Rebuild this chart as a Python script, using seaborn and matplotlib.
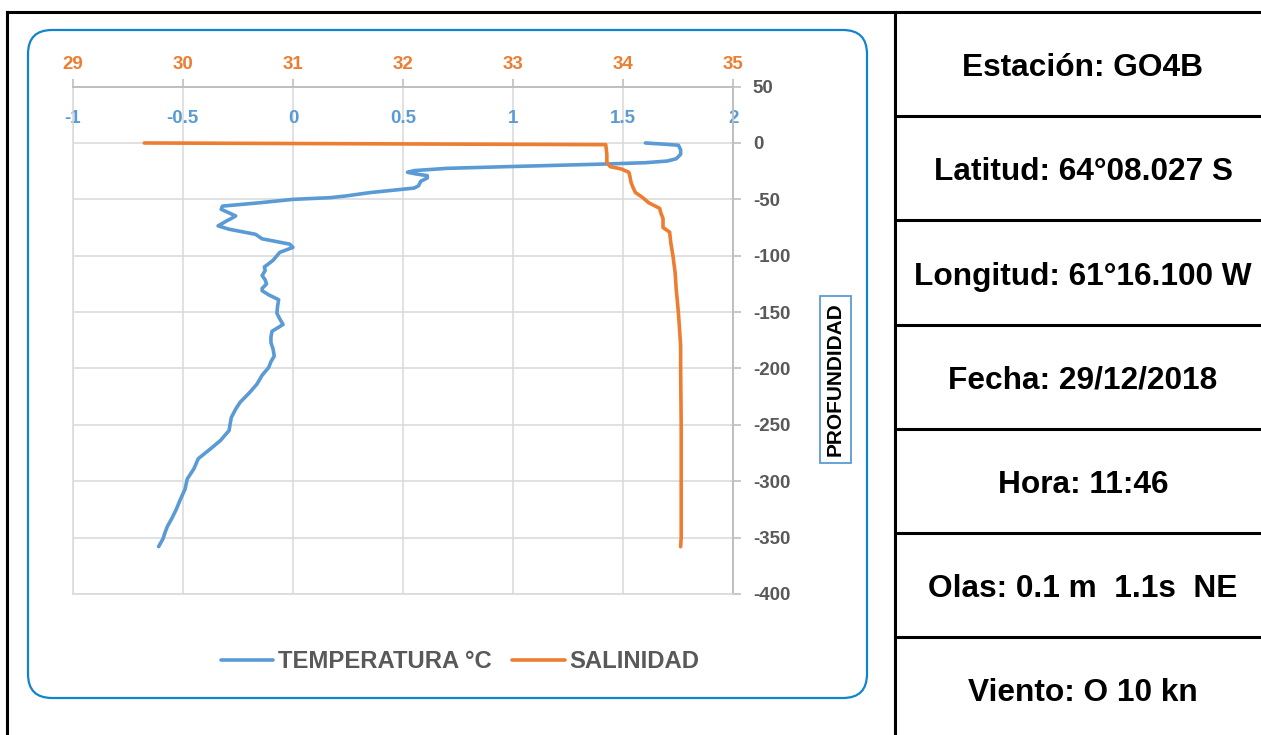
import numpy as np
import pandas as pd
import matplotlib
matplotlib.use("Agg")
import matplotlib.pyplot as plt
import seaborn as sns
from matplotlib.patches import FancyBboxPatch
from matplotlib.lines import Line2D
from matplotlib.transforms import IdentityTransform

# ---------------- data ----------------
temp_depth = [0, -1, -2, -6, -10, -14, -16, -17.5, -18.6, -19.8, -21, -22.5, -24.5, -26, -27.5,
              -29, -31, -34, -38, -40, -41, -44, -47, -48.5, -50, -53, -56, -58.8, -62, -64.7,
              -67, -69, -73.5, -76.5, -81, -85, -89.7, -92.6, -97, -104, -110, -113, -117.6,
              -121.5, -125, -129, -131, -134.7, -139, -145, -151, -156, -161, -167, -172, -177,
              -183, -189, -194, -199, -206, -214, -222, -230, -236, -243.5, -249, -255, -264,
              -271.5, -280, -289, -298, -307, -315.6, -325, -333, -340, -345, -351, -358]
temp_values = [1.60, 1.68, 1.75, 1.76, 1.76, 1.74, 1.70, 1.60, 1.43, 1.20, 0.97, 0.70, 0.55, 0.52,
               0.56, 0.61, 0.61, 0.58, 0.57, 0.55, 0.50, 0.35, 0.24, 0.17, 0.0, -0.15, -0.32,
               -0.326, -0.29, -0.26, -0.28, -0.30, -0.34, -0.29, -0.17, -0.14, -0.015, 0.0,
               -0.06, -0.09, -0.13, -0.126, -0.14, -0.126, -0.12, -0.14, -0.14, -0.11, -0.065,
               -0.07, -0.073, -0.06, -0.045, -0.095, -0.10, -0.10, -0.09, -0.085, -0.10, -0.11,
               -0.14, -0.164, -0.20, -0.24, -0.26, -0.28, -0.285, -0.29, -0.33, -0.376, -0.43,
               -0.45, -0.48, -0.49, -0.51, -0.53, -0.55, -0.57, -0.58, -0.59, -0.61]

sal_depth = [0, -1.5, -10, -17, -21, -23, -26, -30, -35, -40, -44, -48, -53, -58, -62, -67, -75,
             -79, -88, -100, -115, -130, -140, -151, -165, -180, -200, -250, -300, -350, -358]
sal_values = [29.65, 33.84, 33.85, 33.85, 33.88, 33.98, 34.05, 34.06, 34.07, 34.09, 34.11, 34.17,
              34.23, 34.33, 34.34, 34.36, 34.36, 34.42, 34.43, 34.45, 34.47, 34.48, 34.49, 34.50,
              34.51, 34.52, 34.52, 34.525, 34.525, 34.525, 34.52]

temp_ticks = [-1, -0.5, 0, 0.5, 1, 1.5, 2]
temp_tick_labels = ["-1", "-0.5", "0", "0.5", "1", "1.5", "2"]
sal_ticks = [29, 30, 31, 32, 33, 34, 35]
sal_tick_labels = ["29", "30", "31", "32", "33", "34", "35"]
depth_ticks = [-400, -350, -300, -250, -200, -150, -100, -50, 0, 50]
depth_tick_labels = ["-400", "-350", "-300", "-250", "-200", "-150", "-100", "-50", "0", "50"]

series_names = ["TEMPERATURA °C", "SALINIDAD"]
axis_label = "PROFUNDIDAD"
table_rows = ["Estación: GO4B", "Latitud: 64°08.027 S", "Longitud: 61°16.100 W",
              "Fecha: 29/12/2018", "Hora: 11:46", "Olas: 0.1 m  1.1s  NE", "Viento: O 10 kn"]

# ---------------- style ----------------
sns.set_style("white")
plt.rcParams["font.family"] = ["Liberation Sans", "DejaVu Sans"]
plt.rcParams["font.weight"] = "bold"

BLUE = "#5B9BD5"
ORANGE = "#ED7D31"
GRID = "#d9d9d9"
AXIS = "#bfbfbf"
LABEL = "#595959"

W, H = 1261, 735
fig = plt.figure(figsize=(W / 100, H / 100), dpi=100)
fig.patch.set_facecolor("white")

# plot area in pixels
x0, x1 = 72.7, 733.5
y_top, y_bot = 86.6, 594.0
ax = fig.add_axes([x0 / W, 1 - y_bot / H, (x1 - x0) / W, (y_bot - y_top) / H])

temp_df = pd.DataFrame({"temp": temp_values, "depth": temp_depth})
sal_df = pd.DataFrame({"sal": sal_values, "depth": sal_depth})

sns.lineplot(data=temp_df, x="temp", y="depth", sort=False, estimator=None, ax=ax,
             color=BLUE, lw=2.6, solid_capstyle="round", solid_joinstyle="round", legend=False)
ax2 = ax.twiny()
sns.lineplot(data=sal_df, x="sal", y="depth", sort=False, estimator=None, ax=ax2,
             color=ORANGE, lw=2.6, solid_capstyle="round", solid_joinstyle="round", legend=False)

ax.set_xlim(-1, 2)
ax.set_ylim(-400, 50)
ax2.set_xlim(29, 35)
for a in (ax, ax2):
    a.set_xlabel("")
    a.set_ylabel("")

# gridlines / ticks
ax.set_xticks(temp_ticks)
ax.set_xticklabels(temp_tick_labels, fontweight="bold")
ax.set_yticks(depth_ticks)
ax.set_yticklabels(depth_tick_labels, fontweight="bold")
ax.grid(True, color=GRID, lw=1.1)
ax.set_axisbelow(True)
ax2.grid(False)

# temperature axis labels (inside, below top line)
ax.xaxis.tick_top()
ax.tick_params(axis="x", length=0, pad=-29, labelsize=13.5, labelcolor=BLUE)
# depth axis on right
ax.yaxis.tick_right()
ax.tick_params(axis="y", direction="out", length=6, width=1.2, color=AXIS, pad=8,
               labelsize=13.5, labelcolor=LABEL)

# salinity axis on top
ax2.set_xticks(sal_ticks)
ax2.set_xticklabels(sal_tick_labels, fontweight="bold")
ax2.xaxis.tick_top()
ax2.tick_params(axis="x", direction="out", length=6, width=1.2, color=AXIS, pad=4,
                labelsize=13.5, labelcolor=ORANGE)

for s in ["left", "bottom"]:
    ax.spines[s].set_color(GRID)
    ax.spines[s].set_linewidth(1.1)
for s in ["top", "right"]:
    ax.spines[s].set_color(AXIS)
    ax.spines[s].set_linewidth(1.4)
for s in ax2.spines.values():
    s.set_visible(False)

# axis label with box
ax.text(1.154, 0.4227, axis_label, transform=ax.transAxes, rotation=90, ha="center",
        va="center", fontsize=15, color="black", fontweight="bold",
        bbox=dict(boxstyle="square,pad=0.3", fc="white", ec=BLUE, lw=1.3))

# legend
fig.legend([ax.lines[0], ax2.lines[0]], series_names, loc="center",
           bbox_to_anchor=(460 / W, 1 - 661.7 / H), ncol=2, frameon=False,
           prop={"size": 17.2, "weight": "bold"}, labelcolor=LABEL, handlelength=2.2,
           handletextpad=0.2, columnspacing=0.85, borderpad=0, borderaxespad=0)

# rounded chart frame
frame = FancyBboxPatch((28, H - 698), 839, 668, boxstyle="round,pad=0,rounding_size=24",
                       transform=IdentityTransform(), fc="none", ec="#1184CF", lw=1.6,
                       zorder=0)
fig.add_artist(frame)

# table / outer frame
def px_line(xa, ya, xb, yb):
    fig.add_artist(Line2D([xa / W, xb / W], [1 - ya / H, 1 - yb / H], color="black",
                          lw=2.2, transform=fig.transFigure, solid_capstyle="projecting"))

top_line = 12
sep_x = 895
row_h = 104.2
px_line(7, top_line, W + 5, top_line)
px_line(7, top_line, 7, H + 5)
px_line(sep_x, top_line, sep_x, H + 5)
for i, txt in enumerate(table_rows):
    y_start = top_line + i * row_h
    if i > 0:
        px_line(sep_x, y_start, W + 5, y_start)
    fig.text(1083 / W, 1 - (y_start + row_h / 2 + 4) / H, txt, ha="center", va="center",
             fontsize=22.8, color="black", fontweight="bold")

fig.savefig("out.png", dpi=100, facecolor="white")
